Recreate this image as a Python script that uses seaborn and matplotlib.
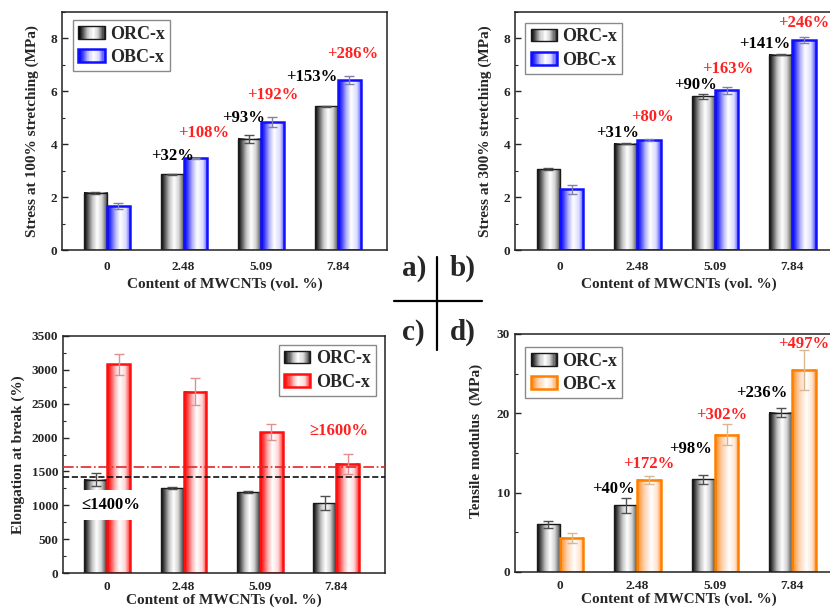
import numpy as np
import pandas as pd
import matplotlib
matplotlib.use("Agg")
import matplotlib.pyplot as plt
import seaborn as sns
from matplotlib.patches import Rectangle
from matplotlib.legend_handler import HandlerBase
from matplotlib.lines import Line2D
from matplotlib.ticker import MultipleLocator

# ---------------- data ----------------
contents = ["0", "2.48", "5.09", "7.84"]
series = ["ORC-x", "OBC-x"]

a_orc = [2.16, 2.86, 4.20, 5.44]
a_orc_err = [0.03, 0.02, 0.15, 0.02]
a_obc = [1.66, 3.47, 4.84, 6.42]
a_obc_err = [0.11, 0.02, 0.18, 0.16]

b_orc = [3.06, 4.02, 5.81, 7.38]
b_orc_err = [0.03, 0.02, 0.10, 0.02]
b_obc = [2.29, 4.15, 6.04, 7.94]
b_obc_err = [0.16, 0.04, 0.13, 0.10]

c_orc = [1376, 1254, 1195, 1032]
c_orc_err = [95, 15, 20, 100]
c_obc = [3080, 2680, 2080, 1613]
c_obc_err = [160, 200, 115, 150]

d_orc = [6.0, 8.4, 11.7, 20.1]
d_orc_err = [0.4, 0.9, 0.55, 0.6]
d_obc = [4.3, 11.6, 17.3, 25.5]
d_obc_err = [0.6, 0.45, 1.3, 2.5]

a_orc_lab = ["+32%", "+93%", "+153%"]
a_orc_lab_x = [0.86, 1.78, 2.66]
a_orc_lab_y = [3.55, 4.98, 6.53]
a_obc_lab = ["+108%", "+192%", "+286%"]
a_obc_lab_x = [1.26, 2.16, 3.19]
a_obc_lab_y = [4.41, 5.85, 7.43]

b_orc_lab = ["+31%", "+90%", "+141%"]
b_orc_lab_x = [0.74, 1.75, 2.64]
b_orc_lab_y = [4.42, 6.23, 7.80]
b_obc_lab = ["+80%", "+163%", "+246%"]
b_obc_lab_x = [1.19, 2.17, 3.14]
b_obc_lab_y = [5.02, 6.83, 8.57]

d_orc_lab = ["+40%", "+98%", "+236%"]
d_orc_lab_x = [0.69, 1.68, 2.61]
d_orc_lab_y = [10.4, 15.5, 22.6]
d_obc_lab = ["+172%", "+302%", "+497%"]
d_obc_lab_x = [1.14, 2.09, 3.14]
d_obc_lab_y = [13.6, 19.8, 28.7]

c_line_obc = 1570
c_line_orc = 1415

# ---------------- style ----------------
sns.set_style("ticks")
plt.rcParams["font.family"] = ["Liberation Serif", "DejaVu Serif"]
plt.rcParams["font.weight"] = "bold"
plt.rcParams["axes.labelweight"] = "bold"
plt.rcParams["axes.linewidth"] = 1.1
plt.rcParams["axes.edgecolor"] = "#222222"

RED = "#ff2020"

GRAD = {
    "black": [(0, "#050505"), (0.12, "#404040"), (0.35, "#c4c4c4"), (0.55, "#ffffff"),
              (0.75, "#d4d4d4"), (0.92, "#707070"), (1, "#2a2a2a")],
    "blue": [(0, "#0000ff"), (0.14, "#3a3aff"), (0.35, "#b4b4ff"), (0.55, "#ffffff"),
             (0.8, "#dadaff"), (1, "#4848ff")],
    "red": [(0, "#ff0000"), (0.14, "#ff3a3a"), (0.35, "#ffb4b4"), (0.55, "#ffffff"),
            (0.8, "#ffd4d4"), (1, "#ff3a3a")],
    "orange": [(0, "#ff8a1a"), (0.3, "#ffd2ae"), (0.6, "#ffffff"), (0.85, "#ffe2cc"),
               (1, "#ff9c44")],
}
EDGE = {"black": ("#1a1a1a", 1.0), "blue": ("#1010ff", 1.8),
        "red": ("#ff1010", 1.8), "orange": ("#ff8000", 1.8)}
ERRC = {"black": "#505050", "blue": "#8080b0", "red": "#e09090", "orange": "#d8b890"}


def grad_colors(name, n=64):
    stops = GRAD[name]
    pos = [s[0] for s in stops]
    rgb = np.array([matplotlib.colors.to_rgb(s[1]) for s in stops])
    t = np.linspace(0, 1, n)
    return np.stack([np.interp(t, pos, rgb[:, k]) for k in range(3)], axis=1)


class GradHandler(HandlerBase):
    def __init__(self, name):
        super().__init__()
        self.name = name

    def create_artists(self, legend, orig_handle, xdescent, ydescent, width, height,
                       fontsize, trans):
        arts = []
        n = 24
        cols = grad_colors(self.name, n)
        x0, y0 = -xdescent, -ydescent
        for k in range(n):
            r = Rectangle((x0 + k * width / n, y0), width / n + 0.3, height,
                          facecolor=cols[k], edgecolor="none", lw=0, transform=trans)
            arts.append(r)
        ec, lw = EDGE[self.name]
        arts.append(Rectangle((x0, y0), width, height, fill=False, edgecolor=ec,
                              lw=lw, transform=trans))
        return arts


W, H = 830, 607
fig = plt.figure(figsize=(W / 100, H / 100), dpi=100)


def rect(l, r, t, b):
    return [l / W, 1 - b / H, (r - l) / W, (b - t) / H]


def panel(pos, orc, orc_err, obc, obc_err, color2, ylim, major, minor, ylabel,
          leg_loc, leg_anchor, xlabelpad=5, ylabelpad=8, xpad=8):
    ax = fig.add_axes(pos)
    df = pd.DataFrame({
        "content": contents * 2,
        "value": list(orc) + list(obc),
        "series": [series[0]] * 4 + [series[1]] * 4,
    })
    sns.barplot(data=df, x="content", y="value", hue="series", order=contents,
                hue_order=series, width=0.6, errorbar=None, legend=False,
                palette=["#888888", "#8888ff"], ax=ax)
    names = ["black", color2]
    errs = [orc_err, obc_err]
    for cont, name, err in zip(ax.containers, names, errs):
        cols = grad_colors(name)
        xs, hs = [], []
        for bar in cont:
            x0 = bar.get_x()
            w = bar.get_width()
            h = bar.get_height()
            ax.imshow(cols[np.newaxis, :, :], extent=[x0, x0 + w, 0, h],
                      aspect="auto", interpolation="bilinear", zorder=1.5)
            ec, lw = EDGE[name]
            bar.set_facecolor("none")
            bar.set_edgecolor(ec)
            bar.set_linewidth(lw)
            bar.set_zorder(2)
            xs.append(x0 + w / 2)
            hs.append(h)
        ax.errorbar(xs, hs, yerr=err, fmt="none", ecolor=ERRC[name], elinewidth=1.0,
                    capsize=3.5, capthick=1.0, zorder=4)
    ax.set_xlim(-0.58, 3.64)
    ax.set_ylim(*ylim)
    ax.yaxis.set_major_locator(MultipleLocator(major))
    ax.yaxis.set_minor_locator(MultipleLocator(minor))
    ax.tick_params(axis="both", which="major", direction="in", length=4, width=1,
                   labelsize=9.5, top=False, right=False)
    ax.tick_params(axis="y", which="minor", direction="in", length=2, width=0.8)
    ax.tick_params(axis="x", which="major", length=0, pad=xpad)
    for lab in ax.get_xticklabels() + ax.get_yticklabels():
        lab.set_fontweight("bold")
    for s in ax.spines.values():
        s.set_visible(True)
    ax.set_xlabel("Content of MWCNTs (vol. %)", fontsize=11, fontweight="bold",
                  labelpad=xlabelpad)
    ax.set_ylabel(ylabel, fontsize=11, fontweight="bold", labelpad=ylabelpad)
    handles = [Rectangle((0, 0), 1, 1), Rectangle((0, 0), 1, 1)]
    leg = ax.legend(handles, series, loc=leg_loc, bbox_to_anchor=leg_anchor,
                    borderaxespad=0, handler_map={handles[0]: GradHandler("black"),
                                                  handles[1]: GradHandler(color2)},
                    prop={"weight": "bold", "size": 13}, fancybox=False,
                    edgecolor="#8a8a8a", framealpha=1, handlelength=1.45,
                    handleheight=0.7, handletextpad=0.3, labelspacing=0.35,
                    borderpad=0.3)
    leg.get_frame().set_linewidth(1.0)
    leg.set_zorder(6)
    return ax


def annotate(ax, labs, xs, ys, color):
    for t, x, y in zip(labs, xs, ys):
        ax.text(x, y, t, ha="center", va="center", fontsize=12, fontweight="bold",
                color=color, zorder=7)


ax_a = panel(rect(62, 387, 12, 250), a_orc, a_orc_err, a_obc, a_obc_err, "blue",
             (0, 9), 2, 1, "Stress at 100% stretching (MPa)", "upper left", (0.034, 0.966),
             xlabelpad=3)
annotate(ax_a, a_orc_lab, a_orc_lab_x, a_orc_lab_y, "black")
annotate(ax_a, a_obc_lab, a_obc_lab_x, a_obc_lab_y, RED)

ax_b = panel(rect(515, 842, 12, 250), b_orc, b_orc_err, b_obc, b_obc_err, "blue",
             (0, 9), 2, 1, "Stress at 300% stretching (MPa)", "upper left", (0.031, 0.954),
             xlabelpad=3)
annotate(ax_b, b_orc_lab, b_orc_lab_x, b_orc_lab_y, "black")
annotate(ax_b, b_obc_lab, b_obc_lab_x, b_obc_lab_y, RED)

ax_c = panel(rect(63, 385, 336, 573), c_orc, c_orc_err, c_obc, c_obc_err, "red",
             (0, 3500), 500, 250, "Elongation at break (%)", "upper right", (0.972, 0.962),
             xlabelpad=0, ylabelpad=5, xpad=6)
ax_c.axhline(c_line_obc, color="#e02828", ls="-.", lw=1.2, zorder=5)
ax_c.axhline(c_line_orc, color="#111111", ls="--", lw=1.2, zorder=5)
ax_c.text(0.04, 1008, "≤1400%", ha="center", va="center", fontsize=12,
          fontweight="bold", color="black", zorder=7,
          bbox=dict(facecolor="white", edgecolor="none", pad=5))
ax_c.text(3.03, 2104, "≥1600%", ha="center", va="center", fontsize=12,
          fontweight="bold", color=RED, zorder=7)

ax_d = panel(rect(515, 842, 334, 572), d_orc, d_orc_err, d_obc, d_obc_err, "orange",
             (0, 30), 10, 5, "Tensile modulus  (MPa)", "upper left", (0.031, 0.945),
             xlabelpad=0, ylabelpad=5, xpad=6)
ax_d.yaxis.set_label_coords(-0.097, 0.55)
annotate(ax_d, d_orc_lab, d_orc_lab_x, d_orc_lab_y, "black")
annotate(ax_d, d_obc_lab, d_obc_lab_x, d_obc_lab_y, RED)

# central panel labels and cross
for t, x, y in [("a)", 414, 268), ("b)", 463, 268), ("c)", 413, 332), ("d)", 463, 332)]:
    fig.text(x / W, 1 - y / H, t, ha="center", va="center", fontsize=21,
             fontweight="bold")
fig.add_artist(Line2D([394 / W, 482 / W], [1 - 301 / H, 1 - 301 / H], color="black", lw=1.6))
fig.add_artist(Line2D([437 / W, 437 / W], [1 - 257 / H, 1 - 350 / H], color="black", lw=1.6))

fig.savefig("out.png", dpi=100)
